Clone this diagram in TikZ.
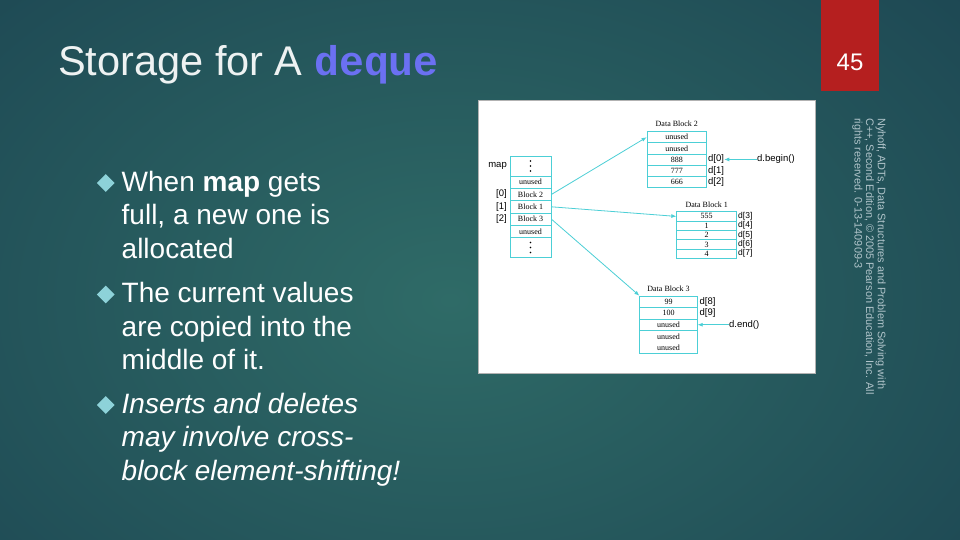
\documentclass[tikz,border=0pt]{standalone}
\usepackage{fontspec}
\setmainfont{Liberation Sans}
\newfontfamily\dqmono{Liberation Mono}
\newfontfamily\dqserif{Liberation Serif}
\usetikzlibrary{arrows.meta, shapes.geometric}
\definecolor{bgedge}{HTML}{15374A}
\definecolor{bgmid}{HTML}{2F6B67}
\definecolor{tabred}{HTML}{B51F1F}
\definecolor{dequeblue}{HTML}{6B70F2}
\definecolor{bulletcol}{HTML}{8DD2D9}
\definecolor{linecyan}{HTML}{4CCFD6}
\definecolor{notecol}{HTML}{B0C4CA}
\definecolor{titlecol}{HTML}{EEF2F2}

\begin{document}
\begin{tikzpicture}[x=1pt, y=-1pt,
  cell/.style={draw=linecyan, line width=0.7pt, inner sep=0pt, font=\dqserif\fontsize{8}{8.5}\selectfont},
  dots/.style={cell, minimum width=41pt, minimum height=19.8pt},
  btitle/.style={inner sep=0pt, font=\dqserif\fontsize{8}{9}\selectfont},
  lbl/.style={anchor=west, inner sep=0pt, font=\fontsize{9.5}{10}\selectfont},
  ptr/.style={draw=linecyan, line width=0.8pt, -{Latex[length=5pt,width=4pt]}},
  bullet/.style={diamond, fill=bulletcol, inner sep=0pt, minimum width=18pt, minimum height=18pt},
  body/.style={anchor=base west, align=left, inner sep=0pt, text=white, font=\fontsize{28}{33.5}\selectfont}]
\useasboundingbox (0,0) rectangle (960,540);
\begin{scope}
\clip (0,0) rectangle (960,540);
\shade[inner color=bgmid, outer color=bgedge] (-550,-400) rectangle (1450,1000);
\end{scope}

% slide number tab and title
\fill[tabred] (821,0) rectangle (879,91);
\node[text=white, font=\fontsize{24}{24}\selectfont] (pgnum) at (850,62) {45};
\node[anchor=base west, inner sep=0pt, text=titlecol, font=\fontsize{41.5}{42}\selectfont] (title) at (58,76)
  {Storage for A {\dqmono\bfseries\color{dequeblue}deque}};

% bullets (text nodes sit on the baseline of their last line)
\node[bullet] (b1) at (105.7,183) {};
\node[body] (txt1) at (121.5,258) {When \textbf{map} gets\\full, a new one is\\allocated};
\node[bullet] (b2) at (105.7,294.5) {};
\node[body] (txt2) at (121.5,369.5) {The current values\\are copied into the\\middle of it.};
\node[bullet] (b3) at (105.7,405) {};
\node[body, font=\fontsize{28}{33.5}\selectfont\itshape] (txt3) at (121.5,480) {Inserts and deletes\\may involve cross-\\block element-shifting!};

% figure panel
\fill[white, draw=gray!60] (478,100) rectangle (815,373);

% map
\node[dots] (mtop) at (530.5,166) {};
\node[cell, minimum width=41pt, minimum height=12.3pt] (mu1) at (530.5,182.2) {unused};
\node[cell, minimum width=41pt, minimum height=12.3pt] (mb2) at (530.5,194.5) {Block 2};
\node[cell, minimum width=41pt, minimum height=12.3pt] (mb1) at (530.5,206.8) {Block 1};
\node[cell, minimum width=41pt, minimum height=12.3pt] (mb3) at (530.5,219.1) {Block 3};
\node[cell, minimum width=41pt, minimum height=12.3pt] (mu2) at (530.5,231.4) {unused};
\node[dots] (mbot) at (530.5,247.5) {};
\foreach \c in {mtop, mbot}
  \foreach \dy in {-5,0,5}
    \fill[black] ([yshift=\dy pt]\c.center) circle (0.8);
\node[lbl, anchor=east] (mapname) at (507,165.7) {map};
\node[lbl, anchor=east] (i0) at (507,194.5) {[0]};
\node[lbl, anchor=east] (i1) at (507,206.8) {[1]};
\node[lbl, anchor=east] (i2) at (507,219.1) {[2]};

% data block 2
\node[btitle] (t2) at (676.8,124) {Data Block 2};
\node[cell, minimum width=59.7pt, minimum height=11.1pt] (db2a) at (676.8,137.25) {unused};
\node[cell, minimum width=59.7pt, minimum height=11.1pt] (db2b) at (676.8,148.35) {unused};
\node[cell, minimum width=59.7pt, minimum height=11.1pt] (db2c) at (676.8,159.45) {888};
\node[cell, minimum width=59.7pt, minimum height=11.1pt] (db2d) at (676.8,170.55) {777};
\node[cell, minimum width=59.7pt, minimum height=11.1pt] (db2e) at (676.8,181.65) {666};
\node[lbl] (l0) at (708,159.45) {d[0]};
\node[lbl] (l1) at (708,170.55) {d[1]};
\node[lbl] (l2) at (708,181.65) {d[2]};
\node[lbl] (dbeg) at (757,159.45) {d.begin()};

% data block 1
\node[btitle] (t1) at (706.7,205) {Data Block 1};
\node[cell, minimum width=60pt, minimum height=9.33pt] (db1a) at (706.7,216.4) {555};
\node[cell, minimum width=60pt, minimum height=9.33pt] (db1b) at (706.7,225.7) {1};
\node[cell, minimum width=60pt, minimum height=9.33pt] (db1c) at (706.7,235.0) {2};
\node[cell, minimum width=60pt, minimum height=9.33pt] (db1d) at (706.7,244.4) {3};
\node[cell, minimum width=60pt, minimum height=9.33pt] (db1e) at (706.7,253.7) {4};
\node[lbl, font=\fontsize{8.5}{9}\selectfont] (l3) at (738,216.4) {d[3]};
\node[lbl, font=\fontsize{8.5}{9}\selectfont] (l4) at (738,225.7) {d[4]};
\node[lbl, font=\fontsize{8.5}{9}\selectfont] (l5) at (738,235.0) {d[5]};
\node[lbl, font=\fontsize{8.5}{9}\selectfont] (l6) at (738,244.4) {d[6]};
\node[lbl, font=\fontsize{8.5}{9}\selectfont] (l7) at (738,253.7) {d[7]};

% data block 3
\node[btitle] (t3) at (668.5,289) {Data Block 3};
\node[cell, minimum width=57.6pt, minimum height=11.5pt] (db3a) at (668.5,301.75) {99};
\node[cell, minimum width=57.6pt, minimum height=11.5pt] (db3b) at (668.5,313.25) {100};
\node[cell, minimum width=57.6pt, minimum height=11.5pt] (db3c) at (668.5,324.75) {unused};
\node[cell, minimum width=57.6pt, minimum height=22.6pt, align=center] (db3d) at (668.5,342.05) {unused\\[2pt]unused};
\node[lbl] (l8) at (699.5,301.75) {d[8]};
\node[lbl] (l9) at (699.5,313.25) {d[9]};
\node[lbl] (dend) at (729,324.75) {d.end()};

\draw[ptr] (mb2.east) -- (db2a.west);
\draw[ptr] (mb1.east) -- (db1a.west);
\draw[ptr] (mb3.east) -- (db3a.north west);
\draw[ptr] (dbeg.west) -- (l0.east);
\draw[ptr] (dend.west) -- (db3c.east);

% source note
\node[rotate=-90, anchor=north west, align=left, inner sep=0pt, text=notecol, font=\fontsize{10.9}{11.7}\selectfont] (note) at (886,118)
  {Nyhoff, ADTs, Data Structures and Problem Solving with\\C++, Second Edition, \textcopyright{} 2005 Pearson Education, Inc. All\\rights reserved. 0-13-140909-3};
\end{tikzpicture}
\end{document}
